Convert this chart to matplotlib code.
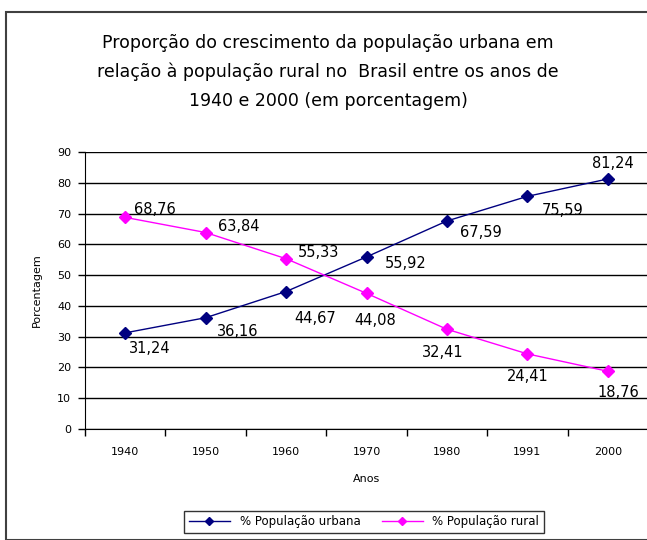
import matplotlib.pyplot as plt
from matplotlib.patches import Rectangle

plt.rcParams['font.family'] = ['DejaVu Sans']

anos = ['1940', '1950', '1960', '1970', '1980', '1991', '2000']
urbana = [31.24, 36.16, 44.67, 55.92, 67.59, 75.59, 81.24]
rural = [68.76, 63.84, 55.33, 44.08, 32.41, 24.41, 18.76]

# label offsets in pixels (dx, dy)
off_urb = [(25, -16), (32, -14), (29, -27), (39, -7), (34, -12), (35, -14), (5, 15)]
off_rur = [(30, 8), (33, 6), (32, 6), (9, -27), (-4, -23), (0, -23), (11, -21)]

W, H = 647, 540
fig = plt.figure(figsize=(W / 100, H / 100), dpi=100)

# outer chart border
fig.patches.append(Rectangle((6 / W, 0), 1, 1 - 12 / H, transform=fig.transFigure,
                             fill=False, edgecolor='#404040', linewidth=1.5))

ax = fig.add_axes([85 / W, 111 / H, 563 / W, 277 / H])
x = list(range(len(anos)))

ax.plot(x, urbana, color='#000080', marker='D', markersize=6.5, linewidth=1,
        label='% População urbana')
ax.plot(x, rural, color='#FF00FF', marker='D', markersize=6.5, linewidth=1,
        label='% População rural')

def fmt(v):
    return ('%.2f' % v).replace('.', ',')

for i, v in enumerate(urbana):
    ax.annotate(fmt(v), (i, v), xytext=off_urb[i], textcoords='offset pixels',
                ha='center', va='center', fontsize=10.5, color='black')
for i, v in enumerate(rural):
    ax.annotate(fmt(v), (i, v), xytext=off_rur[i], textcoords='offset pixels',
                ha='center', va='center', fontsize=10.5, color='black')

ax.set_xlim(-0.5, len(anos) - 0.5)
ax.set_ylim(0, 90)
ax.set_yticks(range(0, 91, 10))
ax.yaxis.grid(True, color='black', linewidth=1)
ax.set_axisbelow(True)

ax.set_xticks([i - 0.5 for i in range(len(anos) + 1)])
ax.set_xticklabels([])
ax.set_xticks(x, minor=True)
ax.set_xticklabels(anos, minor=True, fontsize=8)
ax.tick_params(axis='x', which='minor', length=0, pad=13)
ax.tick_params(axis='x', which='major', direction='out', length=5, width=1)
ax.tick_params(axis='y', direction='out', length=5, width=1, labelsize=8, pad=5)

ax.spines['top'].set_visible(False)
ax.spines['right'].set_linewidth(1)

ax.set_xlabel('Anos', fontsize=8, labelpad=12)
ax.set_ylabel('Porcentagem', fontsize=8, labelpad=11)

fig.text(328 / W, 1 - 72 / H,
         'Proporção do crescimento da população urbana em\n'
         'relação à população rural no  Brasil entre os anos de\n'
         '1940 e 2000 (em porcentagem)',
         ha='center', va='center', fontsize=12.5, linespacing=1.75)

leg = fig.legend(loc='center', bbox_to_anchor=(364 / W, 1 - 522 / H), ncol=2,
                 fontsize=8.5, frameon=True, fancybox=False, edgecolor='black',
                 handlelength=3.5, markerscale=0.7, columnspacing=1.8,
                 borderpad=0.4)
leg.get_frame().set_linewidth(1)

fig.savefig('out.png', dpi=100)
